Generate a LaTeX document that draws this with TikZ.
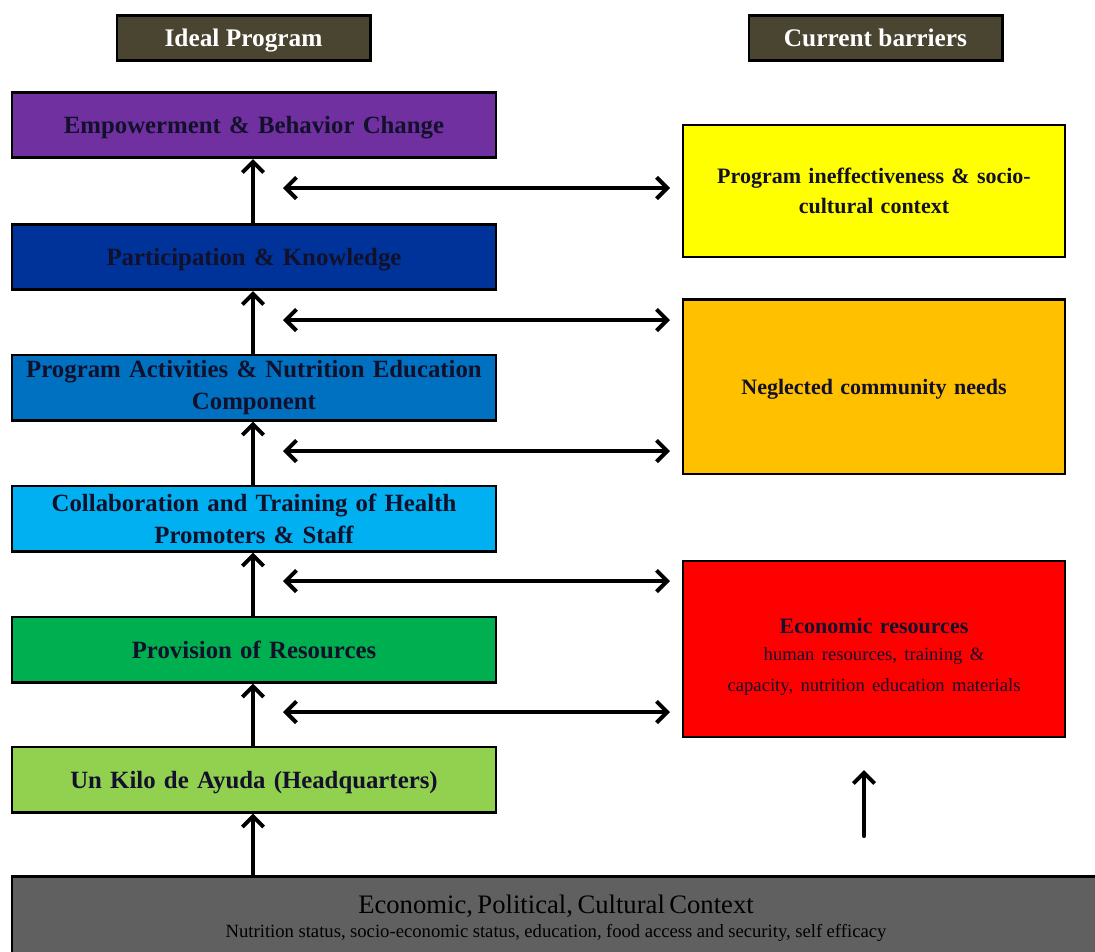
\documentclass[tikz,border=0pt]{standalone}
\usepackage{fontspec}
\setmainfont{Liberation Serif}
\usetikzlibrary{arrows.meta}
\definecolor{hdr}{HTML}{4A4530}
\definecolor{cPurple}{HTML}{7030A0}
\definecolor{cNavy}{HTML}{003399}
\definecolor{cMid}{HTML}{0070C0}
\definecolor{cSky}{HTML}{00B0F0}
\definecolor{cGreen}{HTML}{00B050}
\definecolor{cLime}{HTML}{92D050}
\definecolor{cYellow}{HTML}{FFFF00}
\definecolor{cOrange}{HTML}{FFC000}
\definecolor{cRed}{HTML}{FF0000}
\definecolor{cGray}{HTML}{606060}
\definecolor{txt}{HTML}{12102A}
\tikzset{
  box/.style={draw=black, line width=2pt, inner sep=2pt, align=center, text=txt},
  leftbox/.style={box, minimum width=363pt, minimum height=49pt, text width=358pt, font=\fontsize{18.6}{24}\selectfont\bfseries},
  onelinebox/.style={leftbox, text depth=0pt},
  rightbox/.style={box, minimum width=286.5pt, text width=280pt, font=\fontsize{16.5}{23}\selectfont\bfseries},
  hdrbox/.style={draw=black, line width=2pt, fill=hdr, text=white, minimum width=190pt, minimum height=34pt, text depth=0pt, font=\fontsize{19}{21}\selectfont\bfseries},
  tip/.tip={Straight Barb[length=8pt,width=16pt]},
  arr/.style={line width=3pt, -tip, line cap=round},
  darr/.style={line width=3pt, tip-tip, line cap=round}
}
\begin{document}
\begin{tikzpicture}[x=0.75pt,y=-0.75pt]
\useasboundingbox (0,0) rectangle (1095,951);
\begin{scope}
\clip (0,0) rectangle (1095,951);
% headers
\node[hdrbox] (h1) at (243.5,38) {Ideal Program};
\node[hdrbox] (h2) at (875.5,38) {Current barriers};
% left column
\node[onelinebox, fill=cPurple] (b1) at (254,125) {Empowerment \& Behavior Change};
\node[onelinebox, fill=cNavy] (b2) at (254,257) {Participation \& Knowledge};
\node[leftbox, fill=cMid] (b3) at (254,387.5) {Program Activities \& Nutrition Education\\Component};
\node[leftbox, fill=cSky] (b4) at (254,518.5) {Collaboration and Training of Health\\Promoters \& Staff};
\node[onelinebox, fill=cGreen] (b5) at (254,649.5) {Provision of Resources};
\node[onelinebox, fill=cLime] (b6) at (254,779.5) {Un Kilo de Ayuda (Headquarters)};
% bottom context
\node[box, fill=cGray, text=black, minimum width=816pt, minimum height=62pt, text width=800pt] (ctx) at (556,918)
  {\fontsize{20}{21}\selectfont Economic, Political, Cultural Context\\[4pt]
   \fontsize{14}{21}\selectfont Nutrition status, socio-economic status, education, food access and security, self efficacy};
% right column
\node[rightbox, fill=cYellow, minimum height=99pt] (r1) at (874,191) {Program ineffectiveness \& socio-\\cultural context};
\node[rightbox, fill=cOrange, minimum height=131pt, text depth=0pt] (r2) at (874,386.5) {Neglected community needs};
\node[rightbox, fill=cRed, minimum height=132pt, text depth=34pt] (r3) at (874,649)
  {\fontsize{16.5}{19}\selectfont Economic resources\\[1pt]
   \mdseries\fontsize{14}{19}\selectfont human resources, training \&\\capacity, nutrition education materials};
% vertical arrows
\draw[arr] (ctx.north -| b6.south) ++(-1,0) coordinate (v0) -- (v0 |- b6.south);
\draw[arr] ([xshift=-0.75pt]b6.north) -- ([xshift=-0.75pt]b5.south);
\draw[arr] ([xshift=-0.75pt]b5.north) -- ([xshift=-0.75pt]b4.south);
\draw[arr] ([xshift=-0.75pt]b4.north) -- ([xshift=-0.75pt]b3.south);
\draw[arr] ([xshift=-0.75pt]b3.north) -- ([xshift=-0.75pt]b2.south);
\draw[arr] ([xshift=-0.75pt]b2.north) -- ([xshift=-0.75pt]b1.south);
% horizontal double arrows
\coordinate (a1l) at (283,188); \coordinate (a1r) at (670,188);
\coordinate (a2l) at (283,320); \coordinate (a2r) at (670,320);
\coordinate (a3l) at (283,451); \coordinate (a3r) at (670,451);
\coordinate (a4l) at (283,581); \coordinate (a4r) at (670,581);
\coordinate (a5l) at (283,712); \coordinate (a5r) at (670,712);
\draw[darr] (a1l) -- (a1r);
\draw[darr] (a2l) -- (a2r);
\draw[darr] (a3l) -- (a3r);
\draw[darr] (a4l) -- (a4r);
\draw[darr] (a5l) -- (a5r);
% right vertical arrow
\coordinate (u0) at (864,836); \coordinate (u1) at (864,770);
\draw[arr] (u0) -- (u1);
\end{scope}
\end{tikzpicture}
\end{document}
